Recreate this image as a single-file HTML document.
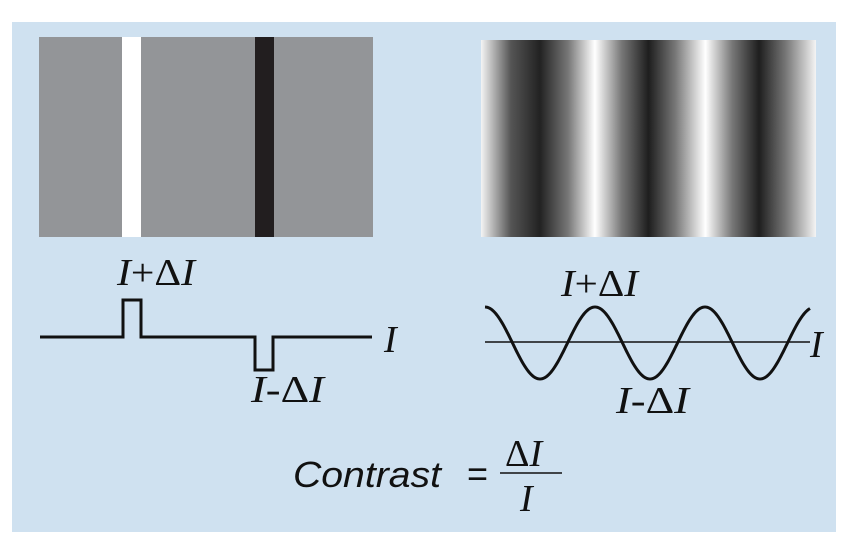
<!DOCTYPE html>
<html><head><meta charset="utf-8"><style>
html,body{margin:0;padding:0;background:#fff;}
svg{display:block;}
</style></head><body>
<svg width="850" height="544" viewBox="0 0 850 544" xmlns="http://www.w3.org/2000/svg">
<defs>
<linearGradient id="g" x1="481" x2="816" y1="0" y2="0" gradientUnits="userSpaceOnUse">
<stop offset="0" stop-color="#f4f4f4"/>
<stop offset="0.089" stop-color="#555"/>
<stop offset="0.176" stop-color="#222"/>
<stop offset="0.26" stop-color="#777"/>
<stop offset="0.34" stop-color="#ffffff"/>
<stop offset="0.42" stop-color="#777"/>
<stop offset="0.50" stop-color="#1e1e1e"/>
<stop offset="0.58" stop-color="#777"/>
<stop offset="0.67" stop-color="#ffffff"/>
<stop offset="0.75" stop-color="#777"/>
<stop offset="0.83" stop-color="#1e1e1e"/>
<stop offset="0.91" stop-color="#777"/>
<stop offset="1" stop-color="#f4f4f4"/>
</linearGradient>
</defs>
<rect x="12" y="22" width="824" height="510" fill="#cfe1f0"/>
<rect x="39" y="37" width="334" height="200" fill="#939598"/>
<rect x="122" y="37" width="19" height="200" fill="#ffffff"/>
<rect x="255" y="37" width="19" height="200" fill="#221e1f"/>
<rect x="481" y="40" width="335" height="197" fill="url(#g)"/>

<g fill="none" stroke="#111" stroke-width="3">
<path d="M40 337 H123 V300 H141 V337 H255 V370 H273 V337 H372"/>
</g>
<line x1="485" y1="342" x2="810" y2="342" stroke="#111" stroke-width="1.5"/>
<path id="w" fill="none" stroke="#111" stroke-width="3" d=""/>
<script>
var d="";for(var x=485;x<=810;x+=1){var y=343-36*Math.cos(2*Math.PI*(x-485)/110);d+=(x==485?"M":"L")+x+" "+y.toFixed(2)+" ";}
document.getElementById("w").setAttribute("d",d);
</script>

<g font-family="Liberation Serif, serif" font-size="38" fill="#111">
<text x="117" y="285" textLength="78" lengthAdjust="spacingAndGlyphs"><tspan font-style="italic">I</tspan>+Δ<tspan font-style="italic">I</tspan></text>
<text x="251" y="402" textLength="73" lengthAdjust="spacingAndGlyphs"><tspan font-style="italic">I</tspan>-Δ<tspan font-style="italic">I</tspan></text>
<text x="384" y="352" font-style="italic">I</text>
<text x="561" y="296" textLength="77" lengthAdjust="spacingAndGlyphs"><tspan font-style="italic">I</tspan>+Δ<tspan font-style="italic">I</tspan></text>
<text x="616" y="413" textLength="73" lengthAdjust="spacingAndGlyphs"><tspan font-style="italic">I</tspan>-Δ<tspan font-style="italic">I</tspan></text>
<text x="810" y="357" font-style="italic">I</text>
</g>
<text x="293" y="487" font-family="Liberation Sans, sans-serif" font-style="italic" font-size="36" fill="#111" textLength="148" lengthAdjust="spacingAndGlyphs">Contrast</text>
<text x="467" y="486" font-family="Liberation Sans, sans-serif" font-size="36" fill="#111">=</text>
<line x1="500" y1="473" x2="562" y2="473" stroke="#111" stroke-width="1.5"/>
<text x="505" y="466" font-family="Liberation Serif, serif" font-size="38" fill="#111">Δ<tspan font-style="italic">I</tspan></text>
<text x="520" y="511" font-family="Liberation Serif, serif" font-style="italic" font-size="38" fill="#111">I</text>
</svg>
</body></html>
